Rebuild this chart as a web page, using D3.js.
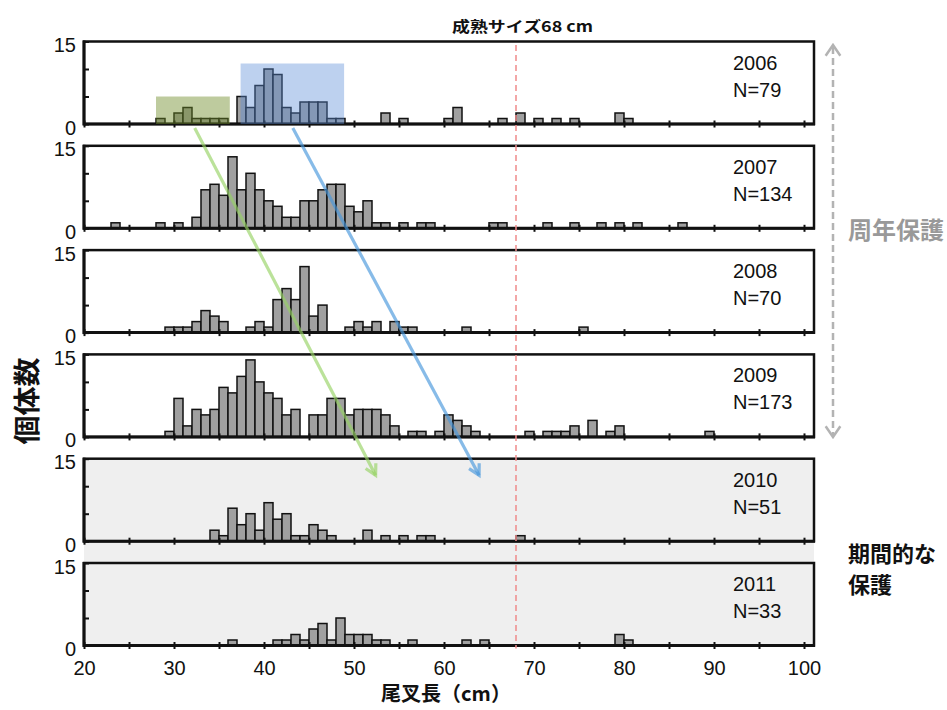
<!DOCTYPE html>
<html>
<head>
<meta charset="utf-8">
<script src="https://cdn.jsdelivr.net/npm/d3@7"></script>
<style>
  body { margin: 0; background: #fff; }
  svg { display: block; }
</style>
</head>
<body>
<div id="chart"></div>
<script>
const years = ["2006", "2007", "2008", "2009", "2010", "2011"];
const nLabels = ["N=79", "N=134", "N=70", "N=173", "N=51", "N=33"];

// [fork length (cm, bin start), count]
const bins2006 = [[28,1],[30,2],[31,3],[32,1],[33,1],[34,1],[35,1],[37,5],[38,3],[39,7],[40,10],[41,9],[42,3],[43,2],[44,4],[45,4],[46,4],[47,1],[48,1],[53,2],[55,1],[60,1],[61,3],[66,1],[68,2],[70,1],[72,1],[74,1],[79,2],[80,1]];
const bins2007 = [[23,1],[28,1],[30,1],[32,2],[33,7],[34,8],[35,6],[36,13],[37,7],[38,10],[39,7],[40,5],[41,4],[42,2],[43,2],[44,5],[45,5],[46,7],[47,8],[48,8],[49,4],[50,3],[51,5],[52,1],[53,1],[55,1],[57,1],[58,1],[65,1],[66,1],[71,1],[74,1],[77,1],[79,1],[81,1],[86,1]];
const bins2008 = [[29,1],[30,1],[31,1],[32,2],[33,4],[34,3],[35,2],[38,1],[39,2],[40,1],[41,6],[42,8],[43,6],[44,12],[45,3],[46,5],[49,1],[50,2],[51,1],[52,2],[54,2],[55,1],[56,1],[62,1],[75,1]];
const bins2009 = [[29,1],[30,7],[31,2],[32,5],[33,4],[34,5],[35,9],[36,8],[37,11],[38,14],[39,10],[40,8],[41,7],[42,4],[43,5],[45,4],[46,4],[47,7],[48,7],[49,4],[50,5],[51,5],[52,5],[53,4],[54,2],[56,1],[57,1],[59,1],[60,4],[61,3],[62,2],[63,1],[69,1],[71,1],[72,1],[73,1],[74,2],[76,3],[78,1],[79,2],[89,1]];
const bins2010 = [[34,2],[35,1],[36,6],[37,3],[38,5],[39,2],[40,7],[41,4],[42,5],[43,1],[44,1],[45,3],[46,2],[47,1],[51,2],[53,1],[55,1],[57,1],[58,1],[68,1]];
const bins2011 = [[36,1],[41,1],[42,1],[43,2],[44,1],[45,3],[46,4],[47,1],[48,5],[49,2],[50,2],[51,2],[52,1],[53,1],[56,1],[62,1],[64,1],[79,2],[80,1]];
const allBins = [bins2006, bins2007, bins2008, bins2009, bins2010, bins2011];

const xTicks = [20, 25, 30, 35, 40, 45, 50, 55, 60, 65, 70, 75, 80, 85, 90, 95, 100];
const xTickLabels = [20, 30, 40, 50, 60, 70, 80, 90, 100];
const yTicks = [0, 5, 10, 15];
const maturitySize = 68;

// highlighted size groups in 2006: [from cm, to cm, height]
const groupBoxes = [[28, 36.2, 5], [37.4, 48.9, 11]];
// growth arrows: start cm (below 2006), end cm (in 2010 panel at count 12)
const arrowFrom = [32.3, 43.2];
const arrowTo = [52.4, 63.9];

const width = 947, height = 710;
const panelH = 82.5, panelStep = 104.3, firstTop = 41.5;
const frameRight = 814;
const panelTop = i => firstTop + i * panelStep;

const x = d3.scaleLinear().domain([20, 100]).range([84, 804]);

const svg = d3.select("#chart").append("svg")
  .attr("width", width)
  .attr("height", height)
  .style("font-family", "'Liberation Sans', Arial, sans-serif");

const cjk = "'Noto Sans CJK JP', 'Noto Sans CJK SC', sans-serif";

// grey background behind the protected-period panels
svg.append("rect")
  .attr("x", x(20))
  .attr("y", panelTop(4))
  .attr("width", frameRight - x(20))
  .attr("height", panelTop(5) + panelH - panelTop(4))
  .attr("fill", "#efefef");

years.forEach((yr, i) => {
  const top = panelTop(i);
  const y = d3.scaleLinear().domain([0, 15]).range([top + panelH, top]);
  const g = svg.append("g");

  g.selectAll(".bar")
    .data(allBins[i])
    .enter().append("rect")
    .attr("class", "bar")
    .attr("x", d => x(d[0]))
    .attr("y", d => y(d[1]))
    .attr("width", d => x(d[0] + 1) - x(d[0]))
    .attr("height", d => y(0) - y(d[1]))
    .attr("fill", "#a0a0a0")
    .attr("stroke", "#111")
    .attr("stroke-width", 1.5);

  g.append("rect")
    .attr("x", x(20))
    .attr("y", top)
    .attr("width", frameRight - x(20))
    .attr("height", panelH)
    .attr("fill", "none")
    .attr("stroke", "#111")
    .attr("stroke-width", 2.5);

  const xAxis = g.append("g")
    .attr("transform", `translate(0,${y(0)})`)
    .call(d3.axisBottom(x)
      .tickValues(xTicks)
      .tickSize(3)
      .tickSizeOuter(0)
      .tickPadding(12)
      .tickFormat(d => (i === 5 && xTickLabels.includes(d)) ? d : ""));
  xAxis.select(".domain").remove();
  xAxis.selectAll(".tick line").attr("y1", -3.5).attr("y2", 3.5).attr("stroke", "#111").attr("stroke-width", 2);
  xAxis.selectAll("text").attr("font-size", 20).attr("fill", "#111").attr("font-family", "'Liberation Sans', Arial, sans-serif");

  const yAxis = g.append("g")
    .attr("transform", `translate(${x(20)},0)`)
    .call(d3.axisLeft(y)
      .tickValues(yTicks)
      .tickSizeInner(-5)
      .tickSizeOuter(0)
      .tickPadding(8)
      .tickFormat(d => (d === 0 || d === 15) ? d : ""));
  yAxis.select(".domain").remove();
  yAxis.selectAll(".tick line").attr("stroke", "#111").attr("stroke-width", 2);
  yAxis.selectAll("text").attr("font-size", 20).attr("fill", "#111").attr("dy", "0.5em")
    .attr("font-family", "'Liberation Sans', Arial, sans-serif");

  // thicker left and bottom axis lines
  g.append("line")
    .attr("x1", x(20)).attr("x2", x(20))
    .attr("y1", top - 1).attr("y2", y(0) + 1.5)
    .attr("stroke", "#111").attr("stroke-width", 3);
  g.append("line")
    .attr("x1", x(20)).attr("x2", frameRight + 1)
    .attr("y1", y(0)).attr("y2", y(0))
    .attr("stroke", "#111").attr("stroke-width", 3);

  g.append("text")
    .attr("x", 733)
    .attr("y", top + 28)
    .attr("font-size", 20)
    .attr("fill", "#111")
    .text(yr);
  g.append("text")
    .attr("x", 733)
    .attr("y", top + 55)
    .attr("font-size", 20)
    .attr("fill", "#111")
    .text(nLabels[i]);
});

// size-group boxes in the 2006 panel
const y0 = d3.scaleLinear().domain([0, 15]).range([panelTop(0) + panelH, panelTop(0)]);
const boxColors = ["rgba(110,140,40,0.45)", "rgba(90,140,215,0.4)"];
svg.selectAll(".group-box")
  .data(groupBoxes)
  .enter().append("rect")
  .attr("class", "group-box")
  .attr("x", d => x(d[0]))
  .attr("y", d => y0(d[2]))
  .attr("width", d => x(d[1]) - x(d[0]))
  .attr("height", d => y0(0) - y0(d[2]))
  .attr("fill", (d, i) => boxColors[i]);

// maturity size line
svg.append("line")
  .attr("x1", x(maturitySize)).attr("x2", x(maturitySize))
  .attr("y1", 45).attr("y2", panelTop(5) + panelH + 3)
  .attr("stroke", "#f08a8a")
  .attr("stroke-width", 1.5)
  .attr("stroke-dasharray", "6,4");

svg.append("text")
  .attr("x", 452)
  .attr("y", 32)
  .attr("font-family", cjk)
  .attr("font-weight", 700)
  .attr("font-size", 15)
  .attr("textLength", 141)
  .attr("lengthAdjust", "spacingAndGlyphs")
  .attr("fill", "#111")
  .text("成熟サイズ68 cm");

function chevron(xe, ye, xs, ys, len, spread) {
  const a = Math.atan2(ye - ys, xe - xs);
  const p1 = [xe - len * Math.cos(a - spread), ye - len * Math.sin(a - spread)];
  const p2 = [xe - len * Math.cos(a + spread), ye - len * Math.sin(a + spread)];
  return `M${p1[0]},${p1[1]}L${xe},${ye}L${p2[0]},${p2[1]}`;
}

// growth arrows
const y4 = d3.scaleLinear().domain([0, 15]).range([panelTop(4) + panelH, panelTop(4)]);
const arrowColors = ["rgba(150,210,100,0.65)", "rgba(70,150,220,0.65)"];
arrowFrom.forEach((from, i) => {
  const xs = x(from), ys = y0(0) + 4;
  const xe = x(arrowTo[i]), ye = y4(12);
  svg.append("line")
    .attr("x1", xs).attr("y1", ys).attr("x2", xe).attr("y2", ye)
    .attr("stroke", arrowColors[i]).attr("stroke-width", 3.2);
  svg.append("path")
    .attr("d", chevron(xe, ye, xs, ys, 12, 0.5))
    .attr("fill", "none")
    .attr("stroke", arrowColors[i]).attr("stroke-width", 3.2);
});

// year-round protection arrow
const gx = 833, gTop = 45, gBottom = 437;
svg.append("line")
  .attr("x1", gx).attr("x2", gx)
  .attr("y1", gTop + 2).attr("y2", gBottom - 2)
  .attr("stroke", "#b3b3b3").attr("stroke-width", 2.5)
  .attr("stroke-dasharray", "7,4");
svg.append("path")
  .attr("d", chevron(gx, gTop, gx, gBottom, 13, 0.6) + chevron(gx, gBottom, gx, gTop, 13, 0.6))
  .attr("fill", "none")
  .attr("stroke", "#b3b3b3").attr("stroke-width", 2.5);

svg.append("text")
  .attr("x", 848)
  .attr("y", 228)
  .attr("dominant-baseline", "central")
  .attr("font-family", cjk)
  .attr("font-weight", 700)
  .attr("font-size", 24)
  .attr("fill", "#999")
  .text("周年保護");

svg.append("text")
  .attr("x", 848)
  .attr("y", 552)
  .attr("dominant-baseline", "central")
  .attr("font-family", cjk)
  .attr("font-weight", 700)
  .attr("font-size", 22)
  .attr("fill", "#111")
  .text("期間的な");
svg.append("text")
  .attr("x", 848)
  .attr("y", 583)
  .attr("dominant-baseline", "central")
  .attr("font-family", cjk)
  .attr("font-weight", 700)
  .attr("font-size", 22)
  .attr("fill", "#111")
  .text("保護");

// axis titles
svg.append("text")
  .attr("transform", "translate(25,401) rotate(-90)")
  .attr("text-anchor", "middle")
  .attr("dominant-baseline", "central")
  .attr("font-family", cjk)
  .attr("font-weight", 700)
  .attr("font-size", 27)
  .attr("textLength", 87)
  .attr("lengthAdjust", "spacingAndGlyphs")
  .attr("fill", "#111")
  .text("個体数");

svg.append("text")
  .attr("x", 446)
  .attr("y", 692)
  .attr("text-anchor", "middle")
  .attr("dominant-baseline", "central")
  .attr("font-family", cjk)
  .attr("font-weight", 700)
  .attr("font-size", 20)
  .attr("fill", "#111")
  .text("尾叉長（cm）");
</script>
</body>
</html>
